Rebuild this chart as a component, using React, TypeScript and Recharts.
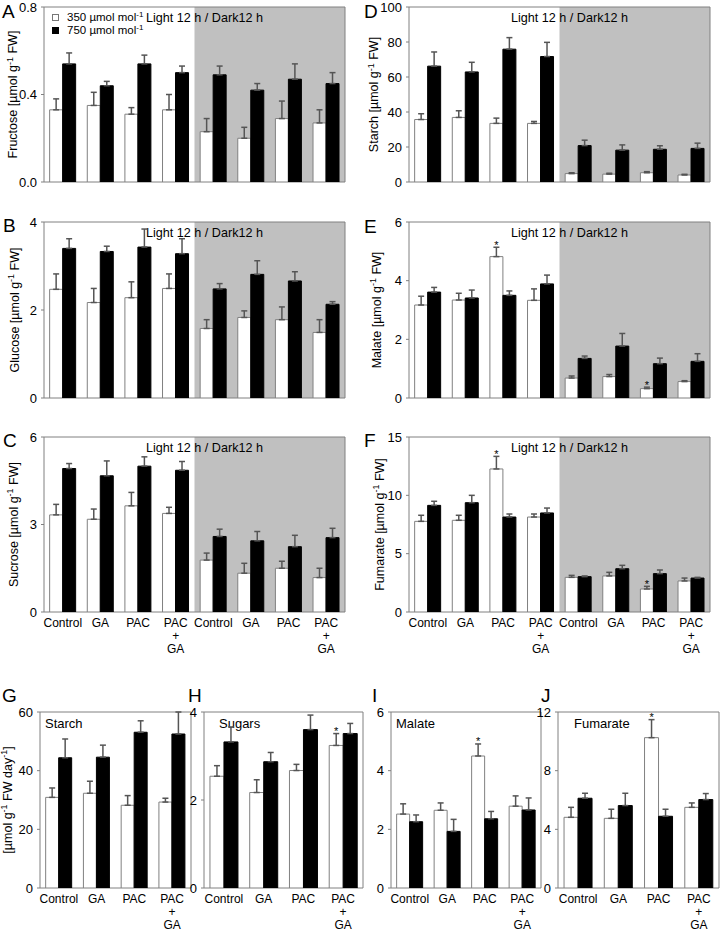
import React from 'react';
import { ComposedChart, Bar, Line, XAxis, YAxis, ErrorBar, ReferenceArea, LabelList, Legend } from 'recharts';

const FONT = '"Liberation Sans", Arial, Helvetica, sans-serif';

const topCategories = ['Control', 'GA', 'PAC', 'PAC + GA', 'Control', 'GA', 'PAC', 'PAC + GA'];
const dailyCategories = ['Control', 'GA', 'PAC', 'PAC + GA'];
const seriesNames = ['350 µmol mol-1', '750 µmol mol-1'];
const cycleText = 'Light 12 h / Dark12 h';

// A Fructose
const fructose350 = [0.33, 0.35, 0.31, 0.33, 0.23, 0.2, 0.29, 0.27];
const fructose350Err = [0.05, 0.06, 0.03, 0.07, 0.06, 0.05, 0.08, 0.06];
const fructose750 = [0.54, 0.44, 0.54, 0.5, 0.49, 0.42, 0.47, 0.45];
const fructose750Err = [0.05, 0.02, 0.04, 0.03, 0.04, 0.03, 0.07, 0.05];
// B Glucose
const glucose350 = [2.47, 2.17, 2.28, 2.49, 1.58, 1.83, 1.78, 1.49];
const glucose350Err = [0.35, 0.32, 0.36, 0.33, 0.2, 0.15, 0.29, 0.29];
const glucose750 = [3.4, 3.33, 3.43, 3.28, 2.48, 2.81, 2.66, 2.13];
const glucose750Err = [0.22, 0.12, 0.41, 0.34, 0.12, 0.31, 0.21, 0.06];
// C Sucrose
const sucrose350 = [3.33, 3.18, 3.64, 3.38, 1.78, 1.33, 1.5, 1.18];
const sucrose350Err = [0.36, 0.35, 0.46, 0.21, 0.24, 0.34, 0.24, 0.32];
const sucrose750 = [4.92, 4.67, 5.0, 4.86, 2.59, 2.44, 2.24, 2.55];
const sucrose750Err = [0.17, 0.51, 0.32, 0.3, 0.25, 0.32, 0.39, 0.32];
// D Starch
const starch350 = [35.7, 36.9, 33.5, 33.5, 4.8, 4.5, 5.3, 4.0];
const starch350Err = [3.3, 3.8, 3.0, 1.1, 0.5, 0.5, 0.6, 0.4];
const starch750 = [66.2, 62.9, 75.9, 71.7, 20.8, 18.2, 18.7, 19.2];
const starch750Err = [8.1, 5.5, 6.6, 8.1, 3.1, 3.0, 2.0, 3.0];
// E Malate
const malate350 = [3.17, 3.34, 4.82, 3.33, 0.68, 0.73, 0.32, 0.56];
const malate350Err = [0.3, 0.23, 0.32, 0.39, 0.07, 0.07, 0.05, 0.03];
const malate750 = [3.61, 3.41, 3.5, 3.89, 1.35, 1.77, 1.17, 1.25];
const malate750Err = [0.16, 0.27, 0.15, 0.3, 0.08, 0.43, 0.19, 0.26];
const malateStar = [0, 0, 1, 0, 0, 0, 1, 0];
// F Fumarate
const fumarate350 = [7.77, 7.86, 12.26, 8.14, 2.97, 3.09, 1.97, 2.66];
const fumarate350Err = [0.52, 0.43, 1.08, 0.26, 0.17, 0.31, 0.23, 0.25];
const fumarate750 = [9.14, 9.37, 8.14, 8.49, 3.03, 3.71, 3.29, 2.91];
const fumarate750Err = [0.35, 0.63, 0.26, 0.42, 0.06, 0.29, 0.31, 0.06];
const fumarateStar = [0, 0, 1, 0, 0, 0, 1, 0];
// G Starch per day
const starchDay350 = [30.9, 32.3, 28.2, 29.3];
const starchDay350Err = [3.2, 4.1, 3.3, 1.3];
const starchDay750 = [44.4, 44.6, 53.1, 52.5];
const starchDay750Err = [6.4, 4.1, 3.9, 7.5];
// H Sugars
const sugars350 = [2.54, 2.17, 2.67, 3.24];
const sugars350Err = [0.24, 0.29, 0.14, 0.27];
const sugars750 = [3.32, 2.87, 3.6, 3.51];
const sugars750Err = [0.34, 0.21, 0.33, 0.23];
const sugarsStar = [0, 0, 0, 1];
// I Malate per day
const malateDay350 = [2.52, 2.65, 4.5, 2.79];
const malateDay350Err = [0.35, 0.25, 0.41, 0.35];
const malateDay750 = [2.26, 1.93, 2.36, 2.66];
const malateDay750Err = [0.23, 0.41, 0.25, 0.41];
const malateDayStar = [0, 0, 1, 0];
// J Fumarate per day
const fumarateDay350 = [4.82, 4.75, 10.25, 5.5];
const fumarateDay350Err = [0.68, 0.62, 1.23, 0.3];
const fumarateDay750 = [6.12, 5.62, 4.89, 6.03];
const fumarateDay750Err = [0.34, 0.84, 0.48, 0.41];
const fumarateDayStar = [0, 0, 1, 0];

const W_AX = 50;
const M_T = 10;
const M_R = 15;
const X_H = 45;

type Part = { t: string; sup?: boolean };

type PanelProps = {
  left: number; top: number; w: number; h: number;
  cats: string[]; lo: number[]; loErr: number[]; hi: number[]; hiErr: number[];
  star?: number[]; max: number; ticks: number[]; fmt?: (v: number) => string;
  title?: Part[]; titleOff?: number; inner?: string; innerX?: number;
  showX?: boolean; dark?: boolean; legend?: boolean;
};

const CatTick = (props: any) => {
  const { x, y, payload } = props;
  const v = String(payload.value);
  const lines = v.includes('+') ? v.split(' ') : [v];
  return (
    <text x={x} y={y} textAnchor="middle" fontSize={12} fontFamily={FONT} fill="#000">
      {lines.map((l, i) => (
        <tspan key={i} x={x} dy={i === 0 ? 15 : 13}>{l}</tspan>
      ))}
    </text>
  );
};

const renderParts = (parts: Part[]) =>
  parts.map((p, i) => {
    if (p.sup) return <tspan key={i} dy={-4.5} fontSize={9}>{p.t}</tspan>;
    const prevSup = i > 0 && parts[i - 1].sup;
    return <tspan key={i} dy={prevSup ? 4.5 : 0}>{p.t}</tspan>;
  });

const legendContent = (props: any) => {
  const payload = (props.payload || []).filter((e: any) => e.type !== 'none');
  return (
    <div style={{ fontFamily: FONT, fontSize: 11.5, color: '#000', lineHeight: '13px' }}>
      {payload.map((e: any, i: number) => (
        <div key={i} style={{ display: 'flex', alignItems: 'center', height: 13, whiteSpace: 'nowrap' }}>
          <span style={{ display: 'inline-block', boxSizing: 'border-box', width: 7, height: 7, background: i === 0 ? '#fff' : '#000', border: i === 0 ? '1px solid #777' : '1px solid #000', marginRight: 8 }} />
          <span>
            {String(e.value).replace(/-1$/, '')}
            <span style={{ fontSize: 8, position: 'relative', top: -4, lineHeight: '8px' }}>-1</span>
          </span>
        </div>
      ))}
    </div>
  );
};

function Panel(p: PanelProps) {
  const data = p.cats.map((c, i) => ({
    cat: c,
    slot: i + 0.5,
    lo: p.lo[i],
    loErr: [0, p.loErr[i]],
    hi: p.hi[i],
    hiErr: [0, p.hiErr[i]],
  }));
  const n = p.cats.length;
  const chartW = W_AX + p.w + M_R;
  const chartH = M_T + p.h + X_H;

  const borderLabel = (lp: any) => {
    const vb = lp.viewBox || {};
    const out: any[] = [];
    if (p.title) {
      const cx = vb.x - (p.titleOff || 32);
      const cy = vb.y + vb.height / 2;
      out.push(
        <text key="t" x={cx} y={cy + 4.5} transform={`rotate(-90 ${cx} ${cy})`} textAnchor="middle" fontSize={12.5} fontFamily={FONT} fill="#000">
          {renderParts(p.title)}
        </text>
      );
    }
    if (p.inner) {
      out.push(
        <text key="i" x={vb.x + (p.innerX || 5)} y={vb.y + 15.5} fontSize={13} fontFamily={FONT} fill="#000">{p.inner}</text>
      );
    }
    return <g>{out}</g>;
  };

  const darkLabel = (lp: any) => {
    const vb = lp.viewBox || {};
    return (
      <text x={vb.x + 10} y={vb.y + 15} textAnchor="middle" fontSize={12.6} fontFamily={FONT} fill="#000">{cycleText}</text>
    );
  };

  const starContent = (lp: any) => {
    const idx = lp.index;
    if (!p.star || idx == null || !p.star[idx]) return null;
    const vb = lp.viewBox && lp.viewBox.height != null ? lp.viewBox : lp;
    const { x, y, width, height } = vb;
    const unit = height / p.lo[idx];
    const ty = y - p.loErr[idx] * unit + 1.5;
    return (
      <text key={`s${idx}`} x={x + width / 2} y={ty} textAnchor="middle" fontSize={11} fontFamily={FONT} fill="#000">*</text>
    );
  };

  return (
    <div style={{ position: 'absolute', left: p.left - W_AX, top: p.top - M_T }}>
      <ComposedChart width={chartW} height={chartH} data={data} margin={{ top: M_T, right: M_R, bottom: 0, left: 0 }} barCategoryGap="15%" barGap={0}>
        <XAxis dataKey="cat" xAxisId={0} height={X_H} axisLine={false} tickLine={false} tickSize={0} tickMargin={0}
          tick={p.showX ? <CatTick /> : false} interval={0} padding={{ left: 0, right: 0 }} />
        <XAxis xAxisId="bg" dataKey="slot" type="number" domain={[0, n]} hide allowDataOverflow />
        <YAxis yAxisId={0} width={W_AX} domain={[0, p.max]} ticks={p.ticks} allowDataOverflow axisLine={false}
          tickLine={{ stroke: '#808080' }} tickSize={3} tickMargin={4}
          tick={{ fontSize: 13, fill: '#000', fontFamily: FONT }} tickFormatter={p.fmt} />
        <YAxis yAxisId="r" orientation="right" mirror width={0} domain={[0, p.max]} ticks={p.ticks} allowDataOverflow
          axisLine={false} tick={false} tickSize={3} tickLine={{ stroke: '#808080' }} />
        {p.dark && (
          <ReferenceArea xAxisId="bg" yAxisId={0} x1={n / 2} x2={n} y1={0} y2={p.max} fill="#c0c0c0" fillOpacity={1} stroke="none" label={darkLabel} />
        )}
        <ReferenceArea xAxisId="bg" yAxisId={0} x1={0} x2={n} y1={0} y2={p.max} fill="none" fillOpacity={0} stroke="#808080" strokeWidth={1} label={borderLabel} />
        <Line xAxisId="bg" yAxisId="r" dataKey="lo" stroke="none" dot={false} activeDot={false} legendType="none" isAnimationActive={false} />
        <Bar dataKey="lo" name={seriesNames[0]} fill="#fff" stroke="#808080" isAnimationActive={false}>
          <ErrorBar dataKey="loErr" width={3} stroke="#555" />
          {p.star && <LabelList dataKey="lo" content={starContent} />}
        </Bar>
        <Bar dataKey="hi" name={seriesNames[1]} fill="#000" stroke="#000" isAnimationActive={false}>
          <ErrorBar dataKey="hiErr" width={3} stroke="#555" />
        </Bar>
        {p.legend && (
          <Legend layout="vertical" align="center" verticalAlign="middle" content={legendContent}
            wrapperStyle={{ left: 58, top: 14, width: 'auto', height: 'auto' }} />
        )}
      </ComposedChart>
    </div>
  );
}

const fw = (name: string): Part[] => [{ t: `${name} [µmol g` }, { t: '-1', sup: true }, { t: ' FW]' }];

const letters = [
  { t: 'A', x: 2, y: 18 }, { t: 'B', x: 3, y: 232 }, { t: 'C', x: 3, y: 447 },
  { t: 'D', x: 364, y: 18 }, { t: 'E', x: 364, y: 233 }, { t: 'F', x: 364, y: 447 },
  { t: 'G', x: 2, y: 702 }, { t: 'H', x: 188, y: 702 }, { t: 'I', x: 372, y: 702 }, { t: 'J', x: 541, y: 702 },
];

export default function App() {
  return (
    <div style={{ position: 'absolute', left: 0, top: 0, width: 722, height: 934, background: '#fff', fontFamily: FONT, overflow: 'hidden' }}>
      <svg width={722} height={934} style={{ position: 'absolute', left: 0, top: 0 }}>
        {letters.map((l) => (
          <text key={l.t} x={l.x} y={l.y} fontSize={19} fontFamily={FONT} fill="#000">{l.t}</text>
        ))}
      </svg>
      <Panel left={44} top={7} w={301} h={175} cats={topCategories} lo={fructose350} loErr={fructose350Err} hi={fructose750} hiErr={fructose750Err}
        max={0.8} ticks={[0, 0.4, 0.8]} fmt={(v) => v.toFixed(1)} title={fw('Fructose')} titleOff={31.5} dark legend />
      <Panel left={44} top={222} w={301} h={176} cats={topCategories} lo={glucose350} loErr={glucose350Err} hi={glucose750} hiErr={glucose750Err}
        max={4} ticks={[0, 2, 4]} title={fw('Glucose')} titleOff={30} dark />
      <Panel left={44} top={437} w={301} h={175} cats={topCategories} lo={sucrose350} loErr={sucrose350Err} hi={sucrose750} hiErr={sucrose750Err}
        max={6} ticks={[0, 3, 6]} title={fw('Sucrose')} titleOff={31} dark showX />
      <Panel left={409} top={7} w={301} h={175} cats={topCategories} lo={starch350} loErr={starch350Err} hi={starch750} hiErr={starch750Err}
        max={100} ticks={[0, 20, 40, 60, 80, 100]} title={fw('Starch')} titleOff={35.5} dark />
      <Panel left={409} top={222} w={301} h={176} cats={topCategories} lo={malate350} loErr={malate350Err} hi={malate750} hiErr={malate750Err}
        star={malateStar} max={6} ticks={[0, 2, 4, 6]} title={fw('Malate')} titleOff={33} dark />
      <Panel left={409} top={437} w={301} h={175} cats={topCategories} lo={fumarate350} loErr={fumarate350Err} hi={fumarate750} hiErr={fumarate750Err}
        star={fumarateStar} max={15} ticks={[0, 5, 10, 15]} title={fw('Fumarate')} titleOff={30} dark showX />
      <Panel left={40} top={712} w={151} h={176} cats={dailyCategories} lo={starchDay350} loErr={starchDay350Err} hi={starchDay750} hiErr={starchDay750Err}
        max={60} ticks={[0, 20, 40, 60]} title={[{ t: '[µmol g' }, { t: '-1', sup: true }, { t: ' FW day' }, { t: '-1', sup: true }, { t: ']' }]} titleOff={33}
        inner="Starch" innerX={5} showX />
      <Panel left={204} top={712} w={159} h={176} cats={dailyCategories} lo={sugars350} loErr={sugars350Err} hi={sugars750} hiErr={sugars750Err}
        star={sugarsStar} max={4} ticks={[0, 2, 4]} inner="Sugars" innerX={15} showX />
      <Panel left={391} top={712} w={150} h={176} cats={dailyCategories} lo={malateDay350} loErr={malateDay350Err} hi={malateDay750} hiErr={malateDay750Err}
        star={malateDayStar} max={6} ticks={[0, 2, 4, 6]} inner="Malate" innerX={5} showX />
      <Panel left={558} top={712} w={161} h={176} cats={dailyCategories} lo={fumarateDay350} loErr={fumarateDay350Err} hi={fumarateDay750} hiErr={fumarateDay750Err}
        star={fumarateDayStar} max={12} ticks={[0, 4, 8, 12]} inner="Fumarate" innerX={16} showX />
    </div>
  );
}
